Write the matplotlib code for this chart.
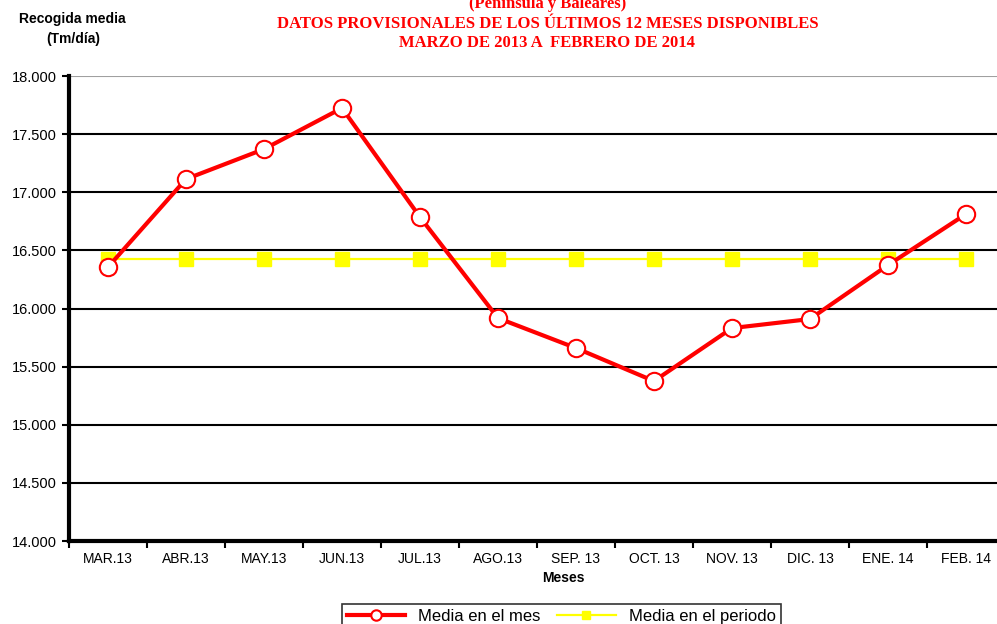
import numpy as np
import matplotlib.pyplot as plt

# Recogida media mensual (Tm/dia), marzo 2013 - febrero 2014
meses = ["MAR.13", "ABR.13", "MAY.13", "JUN.13", "JUL.13", "AGO.13",
         "SEP. 13", "OCT. 13", "NOV. 13", "DIC. 13", "ENE. 14", "FEB. 14"]
media_mes = [16357, 17114, 17372, 17725, 16787, 15918,
             15660, 15376, 15832, 15910, 16374, 16813]
media_periodo = [16430] * 12

fig = plt.figure(figsize=(9.97, 6.24), dpi=100)
ax = fig.add_axes([0.0692, 0.133, 0.9388, 0.745])

x = np.arange(len(meses))
ax.plot(x, media_periodo, color="#ffff00", lw=1.6, marker="s", ms=10,
        markeredgecolor="#ffff00", label="Media en el periodo", zorder=3)
ax.plot(x, media_mes, color="#ff0000", lw=3, marker="o", ms=12.5,
        markerfacecolor="white", markeredgecolor="#ff0000", markeredgewidth=1.5,
        label="Media en el mes", zorder=4)

ax.set_xlim(-0.5, len(meses) - 0.5)
ax.set_ylim(14000, 18000)
ax.set_yticks(np.arange(14000, 18001, 500))
ax.set_yticklabels([f"{v/1000:.3f}" for v in np.arange(14000, 18001, 500)],
                   fontsize=10.5, family="Liberation Sans")
ax.set_xticks(x)
ax.set_xticklabels(meses, fontsize=10, family="Liberation Sans")
ax.set_xticks(np.arange(-0.5, len(meses)), minor=True)
ax.tick_params(axis="x", which="major", length=0, pad=8)
ax.tick_params(axis="x", which="minor", length=5, width=1.5, direction="out")
ax.tick_params(axis="y", length=5, width=1.5, direction="out")

for v in np.arange(14500, 18000, 500):
    ax.axhline(v, color="black", lw=1.5, zorder=1)
ax.axhline(18000, color="#a0a0a0", lw=1.5, zorder=1)

for s in ["top", "right"]:
    ax.spines[s].set_visible(False)
ax.spines["left"].set_linewidth(3)
ax.spines["bottom"].set_linewidth(3)

ax.set_xlabel("Meses", fontsize=10, fontweight="bold", family="Liberation Sans")
ax.xaxis.set_label_coords(0.528, -0.08)
ax.xaxis.label.set_va("center")

fig.text(0.073, 0.97, "Recogida media", ha="center", va="center",
         fontsize=10, fontweight="bold", family="Liberation Sans")
fig.text(0.073, 0.938, "(Tm/día)", ha="center", va="center",
         fontsize=10, fontweight="bold", family="Liberation Sans")

titulo = ["(Península y Baleares)",
          "DATOS PROVISIONALES DE LOS ÚLTIMOS 12 MESES DISPONIBLES",
          "MARZO DE 2013 A  FEBRERO DE 2014"]
for i, t in enumerate(titulo):
    fig.text(0.549, 0.993 - i * 0.031, t, ha="center", va="center",
             fontsize=12, fontweight="bold", family="Liberation Serif",
             color="#ff0000")

h, l = ax.get_legend_handles_labels()
leg = fig.legend(h[::-1], l[::-1], loc="upper center", ncol=2,
                 bbox_to_anchor=(0.563, 0.045), frameon=True, fancybox=False,
                 edgecolor="black", handlelength=3.5, markerscale=0.6,
                 columnspacing=1.0, borderpad=0.3,
                 prop={"family": "Liberation Sans", "size": 12})
leg.get_frame().set_linewidth(1.2)

fig.savefig("out.png", dpi=100)
